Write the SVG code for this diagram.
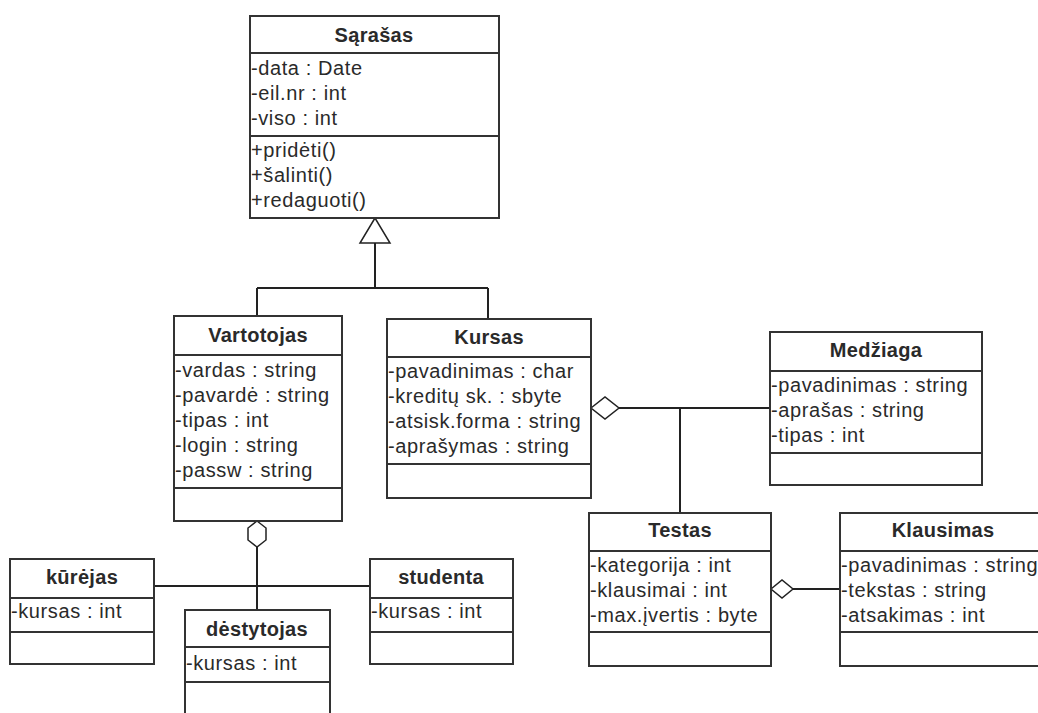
<svg xmlns="http://www.w3.org/2000/svg" width="1038" height="713" viewBox="0 0 1038 713">
<style>
.box{fill:#fff;stroke:#333;stroke-width:2}
.sep{stroke:#333;stroke-width:2}
.t{font-family:"Liberation Sans",Arial,sans-serif;font-size:20px;fill:#2a2a2a;letter-spacing:0.6px}
.h{font-family:"Liberation Sans",Arial,sans-serif;font-size:20px;font-weight:bold;fill:#2a2a2a;text-anchor:middle;letter-spacing:0.3px}
.c{fill:none;stroke:#222;stroke-width:2}
.d{fill:#fff;stroke:#222;stroke-width:1.5}
</style>
<rect width="1038" height="713" fill="#fff"/>
<g id="connectors">
<path class="c" d="M375,243 V288 M257,288 H488 M257,288 V316 M488,288 V319"/>
<polygon class="d" points="375,218 360,243 390,243"/>
<path class="c" d="M619,408 H770 M680,408 V513"/>
<polygon class="d" points="591,408 605,397 619,408 605,419"/>
<path class="c" d="M793,589 H840"/>
<polygon class="d" points="771,589 782,580 793,589 782,598"/>
<path class="c" d="M257,547 V610 M154,586 H370"/>
<polygon class="d" points="257,521 266,528 266,540 257,547 248,540 248,528"/>
</g>
<g id="sarasas">
<rect class="box" x="250" y="16" width="249" height="202"/>
<path class="sep" d="M250,53 H499 M250,136 H499"/>
<text class="h" x="374" y="42">Sąrašas</text>
<text class="t" x="251" y="75">-data : Date</text>
<text class="t" x="251" y="100">-eil.nr : int</text>
<text class="t" x="251" y="125">-viso : int</text>
<text class="t" x="251" y="157">+pridėti()</text>
<text class="t" x="251" y="182">+šalinti()</text>
<text class="t" x="251" y="207">+redaguoti()</text>
</g>
<g id="vartotojas">
<rect class="box" x="174" y="316" width="168" height="205"/>
<path class="sep" d="M174,355 H342 M174,488 H342"/>
<text class="h" x="258" y="342">Vartotojas</text>
<text class="t" x="175" y="377">-vardas : string</text>
<text class="t" x="175" y="402">-pavardė : string</text>
<text class="t" x="175" y="427">-tipas : int</text>
<text class="t" x="175" y="452">-login : string</text>
<text class="t" x="175" y="477">-passw : string</text>
</g>
<g id="kursas">
<rect class="box" x="387" y="319" width="204" height="179"/>
<path class="sep" d="M387,357 H591 M387,464 H591"/>
<text class="h" x="489" y="344">Kursas</text>
<text class="t" x="388" y="378">-pavadinimas : char</text>
<text class="t" x="388" y="403">-kreditų sk. : sbyte</text>
<text class="t" x="388" y="428">-atsisk.forma : string</text>
<text class="t" x="388" y="453">-aprašymas : string</text>
</g>
<g id="medziaga">
<rect class="box" x="770" y="332" width="212" height="153"/>
<path class="sep" d="M770,371 H982 M770,453 H982"/>
<text class="h" x="876" y="357">Medžiaga</text>
<text class="t" x="771" y="392">-pavadinimas : string</text>
<text class="t" x="771" y="417">-aprašas : string</text>
<text class="t" x="771" y="442">-tipas : int</text>
</g>
<g id="testas">
<rect class="box" x="589" y="513" width="182" height="153"/>
<path class="sep" d="M589,551 H771 M589,632 H771"/>
<text class="h" x="680" y="537">Testas</text>
<text class="t" x="590" y="572">-kategorija : int</text>
<text class="t" x="590" y="597">-klausimai : int</text>
<text class="t" x="590" y="622">-max.įvertis : byte</text>
</g>
<g id="klausimas">
<rect class="box" x="840" y="513" width="210" height="153"/>
<path class="sep" d="M840,551 H1050 M840,632 H1050"/>
<text class="h" x="943" y="537">Klausimas</text>
<text class="t" x="841" y="572">-pavadinimas : string</text>
<text class="t" x="841" y="597">-tekstas : string</text>
<text class="t" x="841" y="622">-atsakimas : int</text>
</g>
<g id="kurejas">
<rect class="box" x="10" y="559" width="144" height="105"/>
<path class="sep" d="M10,598 H154 M10,632 H154"/>
<text class="h" x="82" y="584">kūrėjas</text>
<text class="t" x="11" y="618">-kursas : int</text>
</g>
<g id="destytojas">
<rect class="box" x="185" y="610" width="145" height="120"/>
<path class="sep" d="M185,647 H330 M185,682 H330"/>
<text class="h" x="257" y="636">dėstytojas</text>
<text class="t" x="186" y="670">-kursas : int</text>
</g>
<g id="studenta">
<rect class="box" x="370" y="559" width="143" height="105"/>
<path class="sep" d="M370,598 H513 M370,632 H513"/>
<text class="h" x="441" y="584">studenta</text>
<text class="t" x="371" y="618">-kursas : int</text>
</g>
</svg>
